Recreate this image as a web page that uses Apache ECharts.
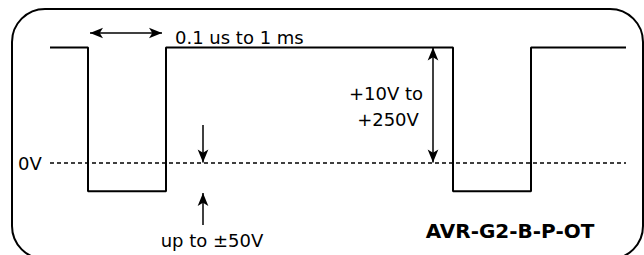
<!DOCTYPE html>
<html>
<head>
<meta charset="utf-8">
<style>
html, body { margin: 0; padding: 0; background: #fff; }
#main { width: 644px; height: 255px; }
</style>
<script src="https://cdn.jsdelivr.net/npm/echarts@6/dist/echarts.min.js"></script>
</head>
<body>
<div id="main"></div>
<script>
// pulse waveform (time units, volts normalised: 1 = pulse top, 0 = 0V)
var waveT = [0, 38, 38, 116, 116, 403, 403, 481, 481, 576];
var waveV = [1, 1, -0.25, -0.25, 1, 1, -0.25, -0.25, 1, 1];
var zeroT = [0, 576];
var zeroV = [0, 0];

// annotations
var widthArrow = [[40, 1.126], [112, 1.126]];
var ampArrow = [[383, 1], [383, 0]];
var offDown = [[153, 0.326], [153, 0]];
var offUp = [[153, -0.543], [153, -0.265]];

var labels = ['0.1 us to 1 ms', '+10V to', '+250V', '0V', 'up to \u00b150V', 'AVR-G2-B-P-OT'];

var myChart = echarts.init(document.getElementById('main'), null, {renderer: 'svg'});

function pairs(xs, ys) {
    var out = [];
    for (var i = 0; i < xs.length; i++) out.push([xs[i], ys[i]]);
    return out;
}

var font = '"DejaVu Sans", sans-serif';
var option = {
    animation: false,
    grid: {left: 0, right: 0, top: 1.5, bottom: 0.5},
    xAxis: {type: 'value', min: -50, max: 594, show: false},
    yAxis: {type: 'value', min: -0.8, max: 1.4, show: false},
    graphic: [
        {type: 'rect', shape: {x: 12, y: 9, width: 631, height: 250, r: 33},
         style: {fill: 'none', stroke: '#000', lineWidth: 2}},
        {type: 'text', x: 175, y: 37, style: {text: labels[0], font: '18px ' + font, fill: '#000', textVerticalAlign: 'middle'}},
        {type: 'text', x: 386, y: 93, style: {text: labels[1], font: '18px ' + font, fill: '#000', textAlign: 'center', textVerticalAlign: 'middle'}},
        {type: 'text', x: 388, y: 119, style: {text: labels[2], font: '18px ' + font, fill: '#000', textAlign: 'center', textVerticalAlign: 'middle'}},
        {type: 'text', x: 18, y: 163, style: {text: labels[3], font: '18px ' + font, fill: '#000', textVerticalAlign: 'middle'}},
        {type: 'text', x: 212, y: 240, style: {text: labels[4], font: '18px ' + font, fill: '#000', textAlign: 'center', textVerticalAlign: 'middle'}},
        {type: 'text', x: 510, y: 231, style: {text: labels[5], font: 'bold 20px ' + font, fill: '#000', textAlign: 'center', textVerticalAlign: 'middle'}}
    ],
    series: [
        {
            type: 'line',
            data: pairs(waveT, waveV),
            symbol: 'none',
            clip: false,
            lineStyle: {color: '#000', width: 2},
            markLine: {
                silent: true,
                symbol: ['arrow', 'arrow'],
                symbolSize: [8, 13],
                label: {show: false},
                lineStyle: {color: '#000', width: 1.5, type: 'solid'},
                data: [
                    [{coord: [zeroT[0], zeroV[0]], symbol: 'none', lineStyle: {type: [4, 3]}},
                     {coord: [zeroT[1], zeroV[1]], symbol: 'none'}],
                    [{coord: widthArrow[0]}, {coord: widthArrow[1]}],
                    [{coord: ampArrow[0]}, {coord: ampArrow[1]}],
                    [{coord: offDown[0], symbol: 'none'}, {coord: offDown[1]}],
                    [{coord: offUp[0], symbol: 'none'}, {coord: offUp[1]}]
                ]
            }
        }
    ]
};
myChart.setOption(option);
</script>
</body>
</html>
